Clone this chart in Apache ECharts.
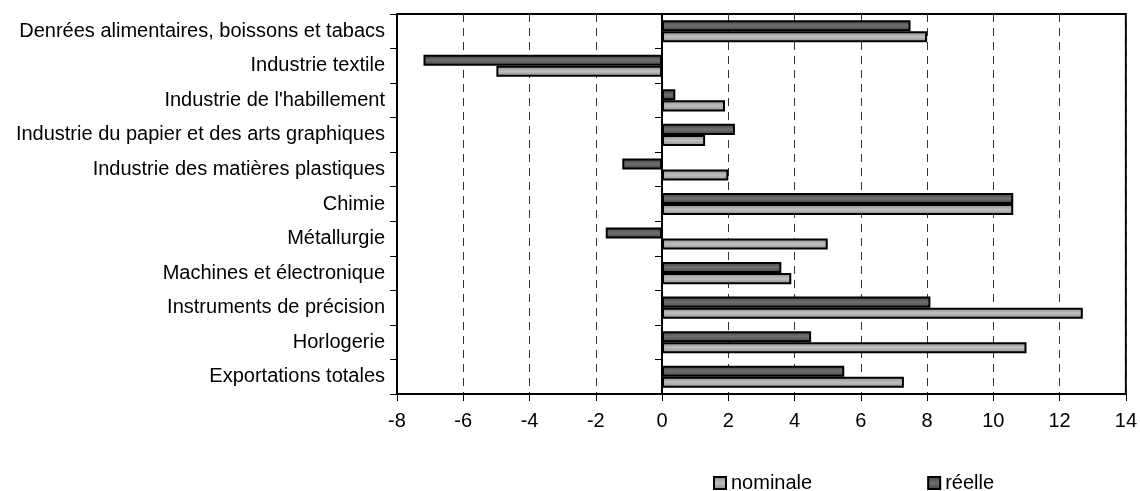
<!DOCTYPE html>
<html>
<head>
<meta charset="utf-8">
<script src="https://cdn.jsdelivr.net/npm/echarts@6/dist/echarts.min.js"></script>
<style>html,body{margin:0;padding:0;background:#fff}#c{width:1140px;height:491px}</style>
</head>
<body>
<div id="c"></div>
<script>
var categories = ["Denrées alimentaires, boissons et tabacs","Industrie textile","Industrie de l'habillement","Industrie du papier et des arts graphiques","Industrie des matières plastiques","Chimie","Métallurgie","Machines et électronique","Instruments de précision","Horlogerie","Exportations totales"];
var nominale = [8.0,-5.0,1.9,1.3,2.0,10.6,5.0,3.9,12.7,11.0,7.3];
var reelle = [7.5,-7.2,0.4,2.2,-1.2,10.6,-1.7,3.6,8.1,4.5,5.5];
var xTicks = [-8,-6,-4,-2,0,2,4,6,8,10,12,14];

function grad(edge, mid){
  return new echarts.graphic.LinearGradient(0,0,0,1,[{offset:0,color:edge},{offset:0.5,color:mid},{offset:1,color:edge}]);
}
var font = 'Liberation Sans, Arial, sans-serif';
var chart = echarts.init(document.getElementById('c'));
chart.setOption({
  animation:false,
  grid:{left:397,right:14,top:14,bottom:97,show:true,borderColor:'#000',borderWidth:2,backgroundColor:'transparent'},
  legend:{bottom:-7,left:708,itemGap:115,itemWidth:12,itemHeight:12,
    textStyle:{fontFamily:font,fontSize:20,color:'#000'},
    data:[{name:'nominale',icon:'rect',itemStyle:{color:grad('#8a8a8a','#c0c0c0'),borderColor:'#000',borderWidth:2}},
          {name:'réelle',icon:'rect',itemStyle:{color:grad('#404040','#707070'),borderColor:'#000',borderWidth:2}}]},
  xAxis:{type:'value',min:xTicks[0],max:xTicks[xTicks.length-1],interval:2,
    axisLine:{show:true,lineStyle:{color:'#000',width:2}},
    axisTick:{show:true,length:7,lineStyle:{color:'#000'}},
    axisLabel:{fontFamily:font,fontSize:20,color:'#000',margin:17},
    splitLine:{show:true,lineStyle:{color:'#333',type:[8,6],width:1}}},
  yAxis:[{type:'category',data:categories,inverse:true,
    axisLine:{show:true,onZero:false,lineStyle:{color:'#000',width:2}},
    axisTick:{show:true,length:7,lineStyle:{color:'#000'}},
    axisLabel:{fontFamily:font,fontSize:20,color:'#000',margin:12}},
    {type:'category',data:categories,inverse:true,position:'left',
    axisLine:{show:true,onZero:true,lineStyle:{color:'#000',width:2}},
    axisTick:{show:true,length:7,lineStyle:{color:'#000'}},
    axisLabel:{show:false},splitLine:{show:false}}],
  series:[
    {name:'réelle',type:'bar',data:reelle,barCategoryGap:'36%',barGap:'0%',
      itemStyle:{color:grad('#404040','#707070'),borderColor:'#000',borderWidth:2}},
    {name:'nominale',type:'bar',data:nominale,barCategoryGap:'36%',barGap:'0%',
      itemStyle:{color:grad('#8a8a8a','#c0c0c0'),borderColor:'#000',borderWidth:2}}
  ]
});
</script>
</body>
</html>
